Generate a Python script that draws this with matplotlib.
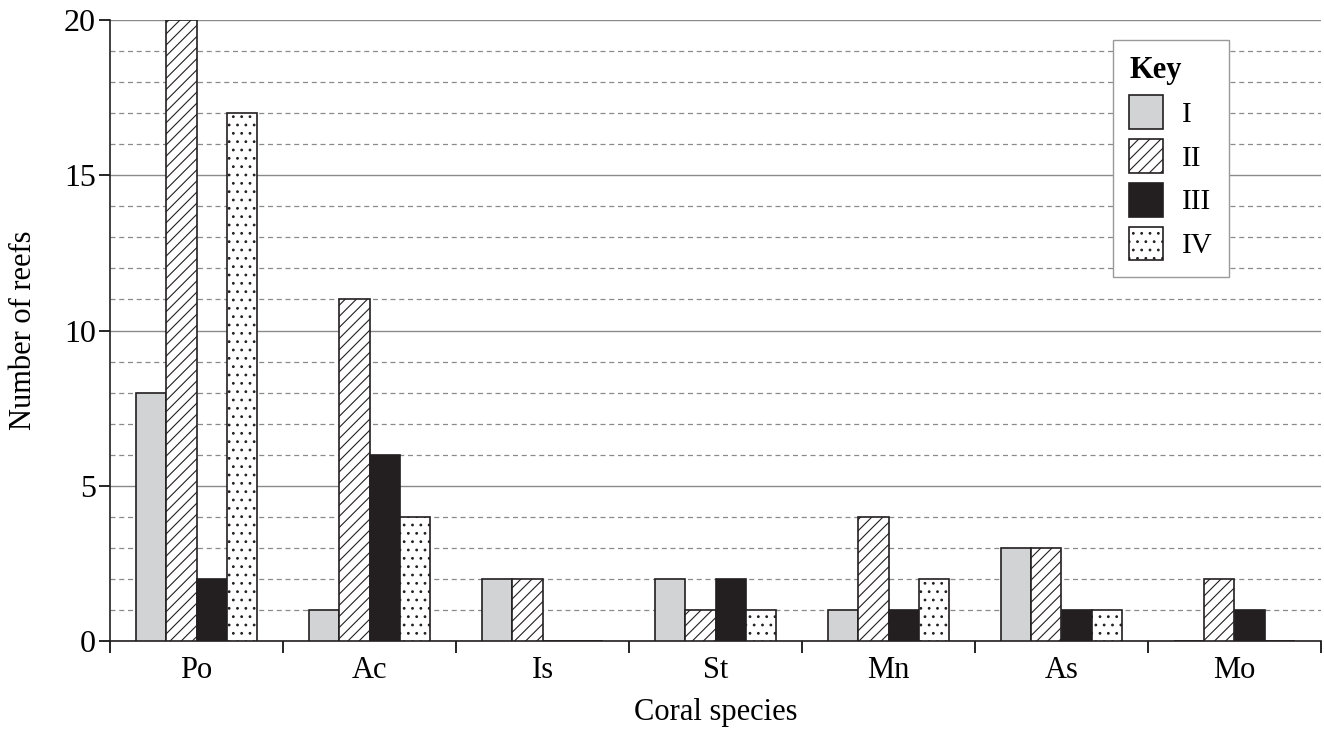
import numpy as np
import matplotlib
matplotlib.use('Agg')
import matplotlib.pyplot as plt

plt.rcParams['font.family'] = ['Liberation Serif', 'DejaVu Serif']
plt.rcParams['hatch.linewidth'] = 0.8

species = ['Po', 'Ac', 'Is', 'St', 'Mn', 'As', 'Mo']
series_names = ['I', 'II', 'III', 'IV']
reefs_I = [8, 1, 2, 2, 1, 3, 0]
reefs_II = [20, 11, 2, 1, 4, 3, 2]
reefs_III = [2, 6, 0, 2, 1, 1, 1]
reefs_IV = [17, 4, 0, 1, 2, 1, 0]

styles = [
    dict(facecolor='#d1d3d4', hatch=None),
    dict(facecolor='white', hatch='///'),
    dict(facecolor='#231f20', hatch=None),
    dict(facecolor='white', hatch='..'),
]

fig = plt.figure(figsize=(13.24, 7.29), dpi=100)
ax = fig.add_axes([110/1324, 1 - 641/729, 1211/1324, 621/729])

x = np.arange(len(species))
w = 0.175
for i, vals in enumerate([reefs_I, reefs_II, reefs_III, reefs_IV]):
    ax.bar(x + (i - 1.5) * w, vals, width=w, edgecolor='#231f20', linewidth=1.2,
           label=series_names[i], zorder=3, **styles[i])

ax.set_xlim(-0.5, len(species) - 0.5)
ax.set_ylim(0, 20)

# major solid grid, minor dashed grid every 1
ax.set_yticks([0, 5, 10, 15, 20])
ax.set_yticks(np.arange(0, 21, 1), minor=True)
ax.yaxis.grid(True, which='major', color='#8a8a8a', linewidth=1.0, zorder=0)
ax.yaxis.grid(True, which='minor', color='#8a8a8a', linewidth=0.9,
              linestyle=(0, (4, 3)), zorder=0)
ax.tick_params(axis='y', which='minor', length=0)
ax.tick_params(axis='y', which='major', length=8, width=1.2, labelsize=23, pad=2)

# x ticks at group boundaries, labels at centres
ax.set_xticks(np.arange(-0.5, len(species), 1))
ax.set_xticklabels([])
ax.set_xticks(x, minor=True)
ax.set_xticklabels(species, minor=True, fontsize=22)
ax.tick_params(axis='x', which='minor', length=0, pad=11)
ax.tick_params(axis='x', which='major', length=8.5, width=1.2)

for s in ['top', 'right']:
    ax.spines[s].set_visible(False)
for s in ['left', 'bottom']:
    ax.spines[s].set_color('#231f20')
    ax.spines[s].set_linewidth(1.2)

ax.set_xlabel('Coral species', fontsize=22, labelpad=9)
ax.set_ylabel('Number of reefs', fontsize=22, labelpad=19)

leg = ax.legend(title='Key', loc='upper right', bbox_to_anchor=(0.924, 0.968),
                borderaxespad=0, fontsize=21,
                title_fontproperties={'weight': 'bold', 'size': 22},
                handlelength=1.16, handleheight=1.4, handletextpad=0.65,
                labelspacing=0.35, borderpad=0.55, fancybox=False,
                framealpha=1, edgecolor='#999999')
leg._legend_box.align = 'left'
leg.get_frame().set_linewidth(1.0)

fig.savefig('out.png', dpi=100)
